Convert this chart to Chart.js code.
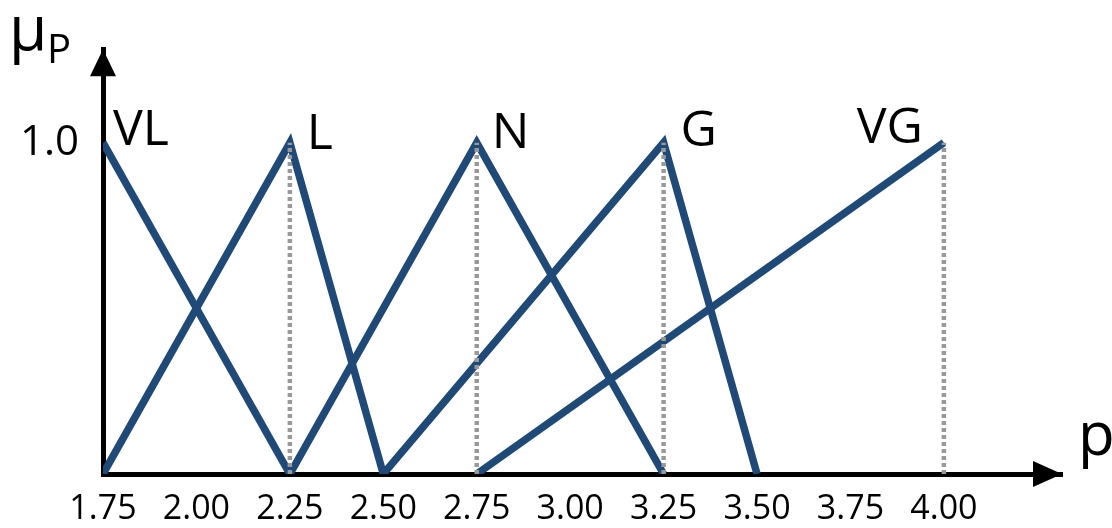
<!DOCTYPE html>
<html><head><meta charset="utf-8">
<script src="https://cdn.jsdelivr.net/npm/chart.js@4/dist/chart.umd.min.js"></script>
<style>html,body{margin:0;padding:0;background:#fff;}canvas{display:block;}</style>
</head><body>
<canvas id="c" width="1112" height="528"></canvas>
<script>
// ---- data ----
const xTicks = [1.75, 2.00, 2.25, 2.50, 2.75, 3.00, 3.25, 3.50, 3.75, 4.00];
const yTicks = [1.0];
const seriesNames = ['VL', 'L', 'N', 'G', 'VG'];
const vlX = [1.75, 2.25], vlY = [1, 0];
const lX  = [1.75, 2.25, 2.50], lY = [0, 1, 0];
const nX  = [2.25, 2.75, 3.25], nY = [0, 1, 0];
const gX  = [2.50, 3.25, 3.50], gY = [0, 1, 0];
const vgX = [2.75, 4.00], vgY = [0, 1];
const peakX = [1.75, 2.25, 2.75, 3.25, 4.00];
const peakY = [1, 1, 1, 1, 1];
const guideX = [2.25, 2.75, 3.25, 4.00];
const guideY = [0, 1];

const NAVY = '#1f4a78';
const FONT = "'Open Sans', 'DejaVu Sans', sans-serif";
const pts = (xs, ys) => xs.map((x, i) => ({x: x, y: ys[i]}));

const datasets = [];
guideX.forEach(gx => {
  datasets.push({
    label: 'guide', data: guideY.map(y => ({x: gx, y: y})),
    borderColor: '#999999', borderWidth: 4.5, borderDash: [4, 3], pointRadius: 0, order: 0
  });
});
[[vlX, vlY], [lX, lY], [nX, nY], [gX, gY], [vgX, vgY]].forEach((s, i) => {
  datasets.push({
    label: seriesNames[i], data: pts(s[0], s[1]),
    borderColor: NAVY, borderWidth: 7.5, pointRadius: 0, order: 1,
    borderCapStyle: 'butt', borderJoinStyle: 'miter'
  });
});

const decor = {
  id: 'decor',
  afterDraw(chart) {
    const ctx = chart.ctx, a = chart.chartArea;
    const xs = chart.scales.x, ys = chart.scales.y;
    ctx.save();
    ctx.fillStyle = '#000';
    // y-axis arrowhead
    ctx.beginPath();
    ctx.moveTo(a.left, a.top);
    ctx.lineTo(a.left - 13, a.top + 27);
    ctx.lineTo(a.left + 13, a.top + 27);
    ctx.closePath(); ctx.fill();
    // x-axis arrowhead
    ctx.beginPath();
    ctx.moveTo(a.right, a.bottom);
    ctx.lineTo(a.right - 29, a.bottom - 13);
    ctx.lineTo(a.right - 29, a.bottom + 13);
    ctx.closePath(); ctx.fill();
    // axis titles
    ctx.textBaseline = 'alphabetic';
    ctx.textAlign = 'left';
    ctx.font = '62px ' + FONT;
    ctx.fillText('\u03bc', 9, 50);
    ctx.font = '40px ' + FONT;
    ctx.fillText('P', 47, 63);
    ctx.font = '60px ' + FONT;
    ctx.fillText('p', 1078, 455);
    // series labels near peaks
    ctx.font = '50px ' + FONT;
    const offs = [[10, 2, 'left'], [17, 6, 'left'], [15, 5, 'left'], [17, 3, 'left'], [-21, 0, 'right']];
    seriesNames.forEach((n, i) => {
      const px = xs.getPixelForValue(peakX[i]);
      const py = ys.getPixelForValue(peakY[i]);
      ctx.textAlign = offs[i][2];
      ctx.fillText(n, px + offs[i][0], py + offs[i][1]);
    });
    ctx.restore();
  }
};

new Chart(document.getElementById('c'), {
  type: 'line',
  data: {datasets: datasets},
  options: {
    responsive: false, animation: false, devicePixelRatio: 1,
    layout: {padding: {top: 42, right: 50, left: 0, bottom: 0}},
    plugins: {legend: {display: false}, tooltip: {enabled: false}},
    scales: {
      x: {
        type: 'linear', min: 1.75, max: 4.316,
        grid: {display: false, drawTicks: false},
        border: {display: true, color: '#000', width: 5},
        afterBuildTicks: s => { s.ticks = xTicks.map(v => ({value: v})); },
        afterFit: s => { s.height = 54; },
        ticks: {
          color: '#000', padding: 15, maxRotation: 0, autoSkip: false,
          font: {family: FONT, size: 34},
          callback: v => Number(v).toFixed(2)
        }
      },
      y: {
        type: 'linear', min: 0, max: 1.282,
        grid: {display: false, drawTicks: false},
        border: {display: true, color: '#000', width: 5},
        afterBuildTicks: s => { s.ticks = yTicks.map(v => ({value: v})); },
        afterFit: s => { s.width = 103; },
        ticks: {
          color: '#000', padding: 24,
          font: {family: FONT, size: 42},
          callback: v => Number(v).toFixed(1)
        }
      }
    }
  },
  plugins: [decor]
});
</script>
</body></html>
